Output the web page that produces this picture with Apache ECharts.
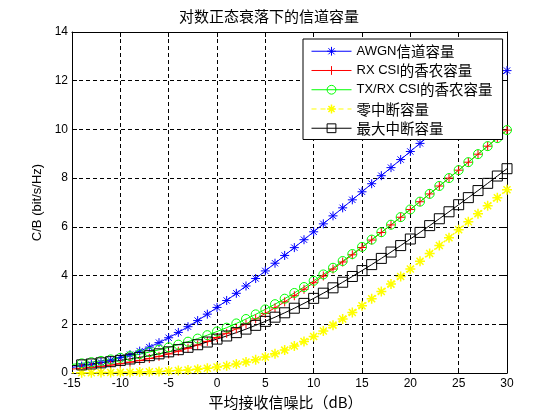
<!DOCTYPE html>
<html><head><meta charset="utf-8">
<script src="https://cdn.jsdelivr.net/npm/echarts@6/dist/echarts.min.js"></script>
<style>html,body{margin:0;padding:0;background:#fff}#c{width:560px;height:420px}</style>
</head><body><div id="c"></div>
<script>
const snrDb = [-15,-14,-13,-12,-11,-10,-9,-8,-7,-6,-5,-4,-3,-2,-1,0,1,2,3,4,5,6,7,8,9,10,11,12,13,14,15,16,17,18,19,20,21,22,23,24,25,26,27,28,29,30];
const awgnCap = [0.230,0.284,0.349,0.427,0.520,0.629,0.755,0.900,1.063,1.246,1.447,1.666,1.902,2.152,2.416,2.692,2.977,3.271,3.572,3.879,4.191,4.507,4.826,5.148,5.472,5.797,6.124,6.452,6.781,7.110,7.440,7.771,8.101,8.432,8.763,9.095,9.427,9.759,10.091,10.423,10.755,11.087,11.419,11.751,12.083,12.415];
const rxCsiCap = [0.161,0.195,0.233,0.275,0.325,0.380,0.444,0.514,0.594,0.683,0.783,0.894,1.016,1.150,1.297,1.457,1.629,1.815,2.013,2.223,2.445,2.677,2.921,3.173,3.437,3.706,3.983,4.267,4.557,4.853,5.153,5.458,5.767,6.079,6.394,6.711,7.031,7.352,7.676,8.001,8.327,8.654,8.983,9.312,9.642,9.972];
const txRxCsiCap = [0.353,0.397,0.446,0.499,0.558,0.623,0.694,0.772,0.859,0.953,1.053,1.165,1.286,1.413,1.554,1.704,1.861,2.035,2.216,2.407,2.613,2.825,3.051,3.286,3.529,3.785,4.046,4.320,4.598,4.885,5.178,5.476,5.780,6.088,6.401,6.716,7.035,7.355,7.679,8.003,8.329,8.656,8.985,9.314,9.644,9.974];
const zeroOutageCap = [0.008,0.011,0.013,0.017,0.021,0.026,0.033,0.041,0.052,0.065,0.081,0.102,0.127,0.158,0.196,0.243,0.299,0.368,0.449,0.546,0.659,0.790,0.940,1.108,1.296,1.502,1.725,1.965,2.219,2.486,2.764,3.052,3.348,3.650,3.959,4.272,4.588,4.908,5.231,5.555,5.881,6.208,6.536,6.865,7.195,7.525];
const maxOutageCap = [0.297,0.333,0.372,0.417,0.465,0.518,0.576,0.641,0.711,0.787,0.869,0.958,1.055,1.160,1.271,1.392,1.520,1.657,1.802,1.957,2.120,2.292,2.472,2.660,2.858,3.064,3.277,3.497,3.726,3.963,4.205,4.450,4.705,4.966,5.231,5.501,5.772,6.051,6.333,6.619,6.909,7.200,7.490,7.787,8.087,8.388];
const seriesNames = ['AWGN信道容量','RX CSI的香农容量','TX/RX CSI的香农容量','零中断容量','最大中断容量'];
const xTicks = {min:-15, max:30, step:5};
const yTicks = {min:0, max:14, step:2};
const titleText = '对数正态衰落下的信道容量';
const xName = '平均接收信噪比（dB）';
const yName = 'C/B (bit/s/Hz)';

const ASTER = 'path://M5,0L5,10M0,5L10,5M1.5,1.5L8.5,8.5M1.5,8.5L8.5,1.5';
const PLUS = 'path://M5,0L5,10M0,5L10,5';
const LATIN = '"Liberation Sans", Arial, sans-serif';
const CJK = '"Noto Sans CJK SC", sans-serif';

function mk(vals){
  return snrDb.map((x,i)=> i===0 ? {value:[x, vals[i]], symbol:'none'} : [x, vals[i]]);
}
function ser(name, vals, color, symbol, size, fill, bw, lineType, lw){
  return {
    name:name, type:'line', data:mk(vals), symbol:symbol, symbolSize:size,
    showSymbol:true, clip:false, animation:false, color:color,
    lineStyle:{color:color, width:lw, type:lineType},
    itemStyle:{color:fill, borderColor:color, borderWidth:bw},
    emphasis:{disabled:true}
  };
}
const chart = echarts.init(document.getElementById('c'), null, {renderer:'canvas'});
const axCommon = {
  type:'value', axisLine:{show:true, onZero:false, lineStyle:{color:'#000', width:1}},
  axisTick:{show:true, inside:true, length:5, lineStyle:{color:'#000', width:1}}
};
chart.setOption({
  backgroundColor:'#fff',
  animation:false,
  title:{text:titleText, left:179, top:9, padding:0,
    textStyle:{fontFamily:CJK, fontSize:15, fontWeight:'normal', color:'#000'}},
  grid:{left:72, top:32, width:435, height:341, containLabel:false, outerBoundsMode:'none'},
  xAxis:[
    Object.assign({}, axCommon, {position:'bottom', min:xTicks.min, max:xTicks.max, interval:xTicks.step,
      axisLabel:{color:'#000', fontFamily:LATIN, fontSize:12, margin:5},
      splitLine:{show:true, lineStyle:{color:'#000', width:1, type:[4,3]}},
      name:xName, nameLocation:'middle', nameGap:21,
      nameTextStyle:{fontFamily:CJK, fontSize:15, color:'#000', padding:[0,8,0,0]}}),
    Object.assign({}, axCommon, {position:'top', min:xTicks.min, max:xTicks.max, interval:xTicks.step,
      axisLabel:{show:false}, splitLine:{show:false}})
  ],
  yAxis:[
    Object.assign({}, axCommon, {position:'left', min:yTicks.min, max:yTicks.max, interval:yTicks.step,
      axisLabel:{color:'#000', fontFamily:LATIN, fontSize:12, margin:4},
      splitLine:{show:true, lineStyle:{color:'#000', width:1, type:[4,3]}},
      name:yName, nameLocation:'middle', nameRotate:90, nameGap:25,
      nameTextStyle:{fontFamily:LATIN, fontSize:13, color:'#000'}}),
    Object.assign({}, axCommon, {position:'right', min:yTicks.min, max:yTicks.max, interval:yTicks.step,
      axisLabel:{show:false}, splitLine:{show:false}})
  ],
  legend:{
    orient:'vertical', left:303, top:39, padding:[5,10,4,8],
    backgroundColor:'#fff', borderColor:'#000', borderWidth:1, borderRadius:0,
    itemWidth:40, itemHeight:11, itemGap:4.75,
    lineStyle:{width:1},
    itemStyle:{borderWidth:1},
    data:[
      {name:seriesNames[0]},
      {name:seriesNames[1]},
      {name:seriesNames[2]},
      {name:seriesNames[3], itemStyle:{borderWidth:1.5}, lineStyle:{type:[5,4], width:1}},
      {name:seriesNames[4]}
    ],
    formatter:function(name){
      const m = name.match(/^([A-Za-z\/ ]+)(.*)$/);
      return m ? '{l|'+m[1]+'}{c|'+m[2]+'}' : '{c|'+name+'}';
    },
    textStyle:{color:'#000', fontFamily:CJK, fontSize:14.5, lineHeight:14,
      rich:{
        l:{fontFamily:LATIN, fontSize:13, color:'#000', lineHeight:14},
        c:{fontFamily:CJK, fontSize:14.5, color:'#000', lineHeight:14}
      }}
  },
  series:[
    ser(seriesNames[0], awgnCap, '#0000ff', ASTER, 9, '#0000ff', 1, 'solid', 1),
    ser(seriesNames[1], rxCsiCap, '#ff0000', PLUS, 9, '#ff0000', 1, 'solid', 1),
    ser(seriesNames[2], txRxCsiCap, '#00ff00', 'circle', 9, 'rgba(0,0,0,0)', 1, 'solid', 1),
    ser(seriesNames[3], zeroOutageCap, '#ffff00', ASTER, 10, '#ffff00', 1.5, [2,2], 1.5),
    ser(seriesNames[4], maxOutageCap, '#000000', 'rect', 10, 'rgba(0,0,0,0)', 1, 'solid', 1)
  ]
});
</script></body></html>
